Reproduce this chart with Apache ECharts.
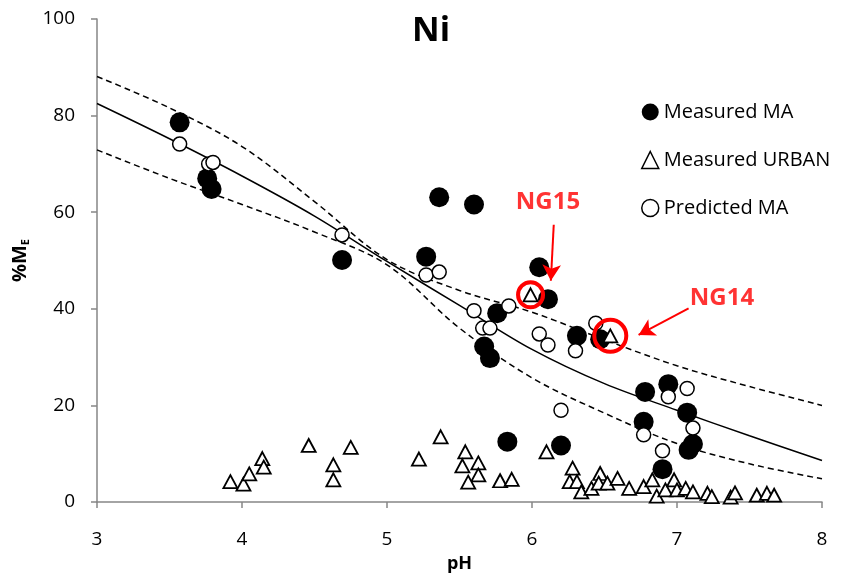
<!DOCTYPE html>
<html>
<head>
<meta charset="utf-8">
<script src="https://cdn.jsdelivr.net/npm/echarts@6/dist/echarts.min.js"></script>
<style>
  html, body { margin: 0; padding: 0; background: #fff; }
  #chart { width: 857px; height: 581px; }
</style>
</head>
<body>
<div id="chart"></div>
<script>
// measured MA (pH, %ME)
var measuredMA = [
  [3.57, 78.6], [3.76, 67.0], [3.79, 64.8], [4.69, 50.1], [5.27, 50.8],
  [5.36, 63.1], [5.60, 61.6], [5.76, 39.1], [5.67, 32.2], [5.71, 29.8],
  [6.05, 48.6], [6.11, 42.0], [6.31, 34.4], [6.47, 33.7], [6.78, 22.8],
  [6.94, 24.4], [6.77, 16.6], [7.07, 18.5], [7.08, 10.8], [7.11, 12.0],
  [6.90, 6.8], [6.20, 11.7], [5.83, 12.5]
];
// measured urban
var measuredUrban = [
  [3.92, 4.2], [4.01, 3.7], [4.05, 5.8], [4.14, 9.0], [4.15, 7.2],
  [4.46, 11.7], [4.63, 7.7], [4.63, 4.6], [4.75, 11.3], [5.22, 8.9],
  [5.37, 13.5], [5.54, 10.4], [5.52, 7.5], [5.63, 8.1], [5.63, 5.6],
  [5.56, 4.1], [5.78, 4.4], [5.86, 4.7], [6.10, 10.4], [6.28, 7.0],
  [6.26, 4.2], [6.31, 4.2], [6.34, 2.1], [6.41, 2.8], [6.47, 5.9],
  [6.46, 3.9], [6.52, 3.9], [6.59, 4.9], [6.67, 2.8], [6.77, 3.2],
  [6.83, 4.6], [6.86, 1.2], [6.92, 2.5], [6.98, 4.6], [7.00, 2.5],
  [7.06, 2.8], [7.11, 2.1], [7.21, 1.8], [7.24, 1.1], [7.37, 1.0],
  [7.40, 1.9], [7.55, 1.4], [7.62, 1.8], [7.67, 1.4],
  [5.99, 42.9], [6.54, 34.4]
];
// predicted MA
var predictedMA = [
  [3.57, 74.1], [3.77, 70.0], [3.80, 70.3], [4.69, 55.3], [5.27, 47.0],
  [5.36, 47.6], [5.60, 39.6], [5.84, 40.6], [5.66, 36.0], [5.71, 36.0],
  [6.05, 34.8], [6.11, 32.5], [6.30, 31.3], [6.44, 37.0], [7.07, 23.5],
  [6.94, 21.8], [6.20, 19.0], [7.11, 15.3], [6.77, 13.9], [6.90, 10.6]
];
// fitted curve and its bounds
var fitPH    = [3, 3.5, 4, 4.5, 5, 5.5, 6, 6.5, 7, 7.5, 8];
var fitMid   = [82.5, 75.2, 67.5, 59.2, 49.8, 40.7, 31.6, 24.5, 19.0, 13.7, 8.6];
var fitUpper = [88.1, 81.6, 73.6, 62.2, 50.2, 43.8, 39.3, 33.6, 28.2, 23.9, 20.0];
var fitLower = [72.9, 67.0, 61.6, 55.9, 49.1, 36.0, 25.7, 18.4, 12.1, 7.9, 4.8];

// highlighted samples
var ngNames  = ['NG15', 'NG14'];
var ngPoints = [[5.99, 42.9], [6.54, 34.4]];
var ngLabels = [[6.11, 62.0], [7.31, 42.2]];
var ngArrows = [[[6.15, 57.4], [6.13, 45.8]], [[7.08, 40.1], [6.735, 34.6]]];

var font = '"Open Sans", "Liberation Sans", sans-serif';

function pairs(xs, ys) {
  return xs.map(function (x, i) { return [x, ys[i]]; });
}

var chart = echarts.init(document.getElementById('chart'));

var option = {
  animation: false,
  textStyle: { fontFamily: font },
  grid: { left: 97, right: 35, top: 19, bottom: 79 },
  graphic: [{
    type: 'text',
    left: 412,
    top: 14,
    style: { text: 'Ni', font: 'bold 34px ' + font, fill: '#000' }
  }],
  legend: {
    orient: 'vertical',
    left: 636,
    top: 95,
    itemGap: 24,
    itemWidth: 17,
    itemHeight: 17,
    textStyle: { fontSize: 20, color: '#000', fontFamily: font, lineHeight: 24 },
    data: [
      { name: 'Measured MA', icon: 'circle' },
      { name: 'Measured URBAN', icon: 'triangle', itemStyle: { color: '#fff', borderColor: '#000', borderWidth: 1.5 } },
      { name: 'Predicted MA', icon: 'circle', itemStyle: { color: '#fff', borderColor: '#000', borderWidth: 1.5 } }
    ]
  },
  xAxis: {
    type: 'value',
    min: 3, max: 8, interval: 1,
    name: 'pH',
    nameLocation: 'middle',
    nameGap: 53,
    nameTextStyle: { fontSize: 18, fontWeight: 'bold', color: '#000' },
    axisLine: { lineStyle: { color: '#868686', width: 1.5 } },
    axisTick: { show: true, length: 6, lineStyle: { color: '#868686', width: 1.5 } },
    axisLabel: { fontSize: 19, color: '#000', margin: 28 },
    splitLine: { show: false }
  },
  yAxis: {
    type: 'value',
    min: 0, max: 100, interval: 20,
    name: '{a|%M}{b|E}',
    nameLocation: 'middle',
    nameRotate: 90,
    nameGap: 58,
    nameTextStyle: {
      rich: {
        a: { fontSize: 20, fontWeight: 'bold', color: '#000', fontFamily: font },
        b: { fontSize: 11, fontWeight: 'bold', color: '#000', fontFamily: font, padding: [11, 0, 0, 0] }
      }
    },
    axisLine: { show: true, lineStyle: { color: '#868686', width: 1.5 } },
    axisTick: { show: true, length: 6, lineStyle: { color: '#868686', width: 1.5 } },
    axisLabel: { fontSize: 19, color: '#000', margin: 22 },
    splitLine: { show: false }
  },
  series: [
    {
      name: 'fit', type: 'line', smooth: 0.35, symbol: 'none', z: 1,
      lineStyle: { color: '#000', width: 1.5 },
      data: pairs(fitPH, fitMid)
    },
    {
      name: 'upper', type: 'line', smooth: 0.35, symbol: 'none', z: 1,
      lineStyle: { color: '#000', width: 1.5, type: [6, 4] },
      data: pairs(fitPH, fitUpper)
    },
    {
      name: 'lower', type: 'line', smooth: 0.35, symbol: 'none', z: 1,
      lineStyle: { color: '#000', width: 1.5, type: [6, 4] },
      data: pairs(fitPH, fitLower)
    },
    {
      name: 'Measured MA', type: 'scatter', symbol: 'circle', symbolSize: 20, z: 3,
      itemStyle: { color: '#000', opacity: 1 },
      data: measuredMA
    },
    {
      name: 'Measured URBAN', type: 'scatter', symbol: 'triangle', symbolSize: [14, 13], z: 4,
      itemStyle: { color: '#fff', borderColor: '#000', borderWidth: 1.8, opacity: 1 },
      data: measuredUrban
    },
    {
      name: 'Predicted MA', type: 'scatter', symbol: 'circle', symbolSize: 14, z: 4,
      itemStyle: { color: '#fff', borderColor: '#000', borderWidth: 1.5, opacity: 1 },
      data: predictedMA
    },
    {
      name: 'highlight', type: 'scatter', symbol: 'circle', z: 5,
      itemStyle: { color: 'rgba(0,0,0,0)', borderColor: '#ff0000', borderWidth: 4, opacity: 1 },
      data: [
        { value: ngPoints[0], symbolSize: 25 },
        { value: ngPoints[1], symbolSize: 32 }
      ],
      markLine: {
        silent: true,
        symbol: ['none', 'arrow'],
        symbolSize: [14, 16],
        label: { show: false },
        lineStyle: { color: '#ff0000', width: 2, type: 'solid' },
        data: ngArrows.map(function (a) {
          return [{ coord: a[0] }, { coord: a[1] }];
        })
      }
    },
    {
      name: 'labels', type: 'scatter', symbol: 'circle', symbolSize: 1, z: 6,
      itemStyle: { color: 'rgba(0,0,0,0)' },
      label: {
        show: true, position: 'inside',
        formatter: function (p) { return ngNames[p.dataIndex]; },
        fontSize: 24, fontWeight: 'bold', color: '#ff0000', fontFamily: font
      },
      data: ngLabels
    }
  ]
};

chart.setOption(option);
</script>
</body>
</html>
